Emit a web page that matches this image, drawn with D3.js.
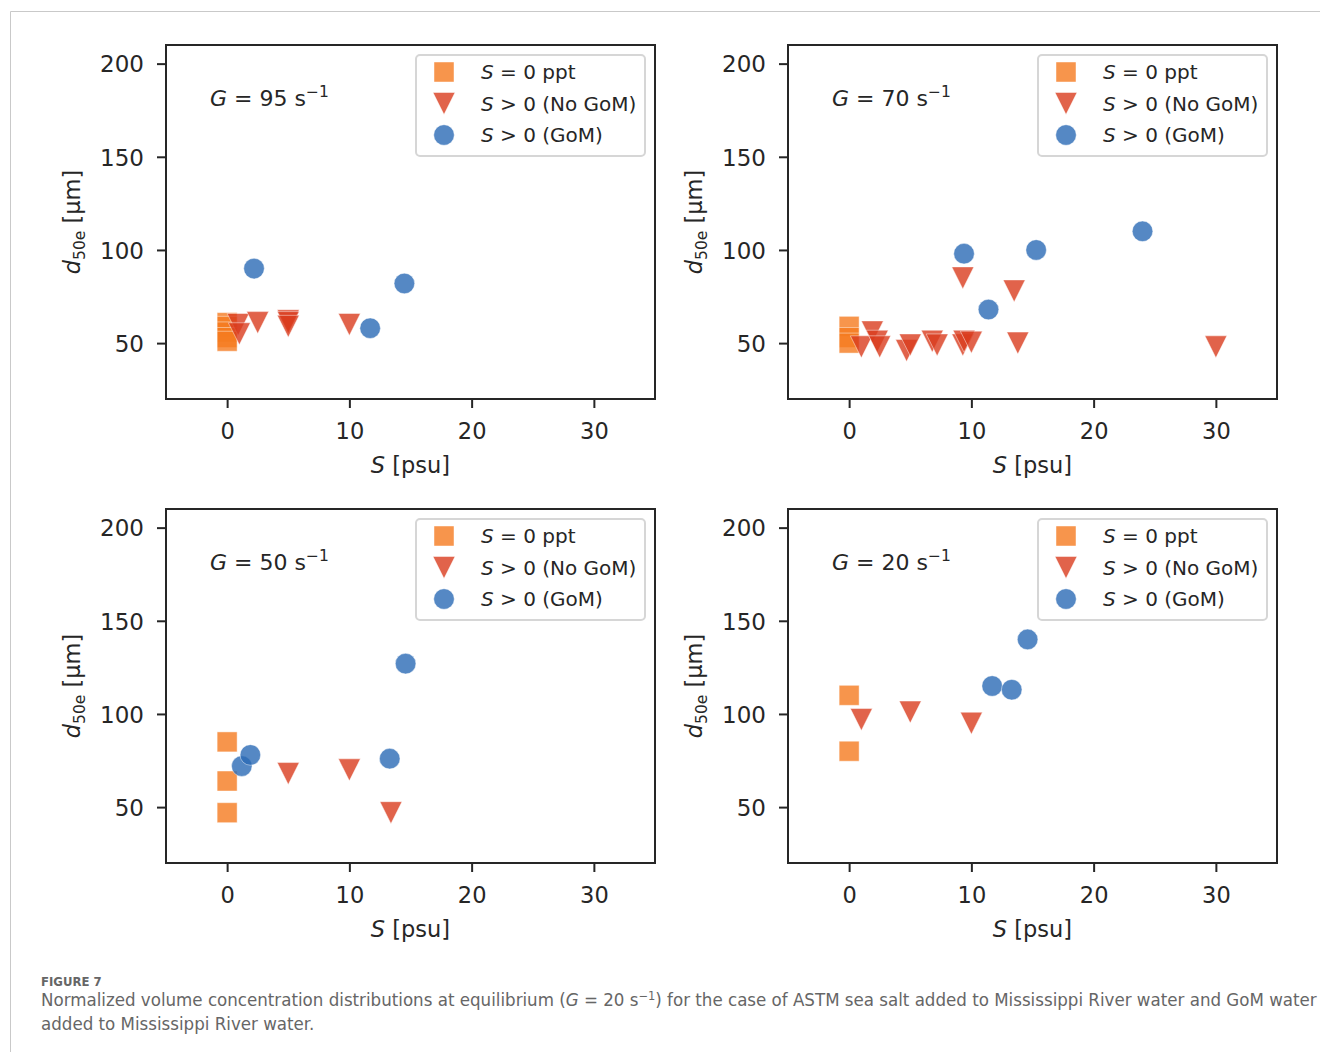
<!DOCTYPE html>
<html>
<head>
<meta charset="utf-8">
<script src="https://cdn.jsdelivr.net/npm/d3@7"></script>
<style>
  html, body { margin: 0; padding: 0; background: #fff; }
  svg { display: block; }
</style>
</head>
<body>
<svg id="chart" width="1320" height="1052"></svg>
<script>
// ---------- data ----------
const shearRates = ["95", "70", "50", "20"];
const xTicks = [0, 10, 20, 30];
const yTicks = [50, 100, 150, 200];
const legendLabels = ["S = 0 ppt", "S > 0 (No GoM)", "S > 0 (GoM)"];

// [S (psu), d50e (µm)]
const g95Square = [[0, 61], [0, 59], [0, 56], [0, 53], [0, 51]];
const g95Tri    = [[0.9, 60], [1.0, 55], [2.5, 61], [5.0, 62], [5.0, 61], [5.0, 59], [10.0, 60]];
const g95Circle = [[2.2, 90], [11.7, 58], [14.5, 82]];

const g70Square = [[0, 59], [0, 53], [0, 50]];
const g70Tri    = [[1.9, 56], [1.0, 48], [2.3, 51], [2.5, 48], [4.7, 46], [5.0, 49], [6.8, 51], [7.2, 49],
                   [9.3, 49], [9.4, 51], [10.0, 50.5], [9.3, 85], [13.5, 78], [13.8, 50], [30.0, 48]];
const g70Circle = [[9.4, 98], [11.4, 68], [15.3, 100], [24.0, 110]];

const g50Square = [[0, 85], [0, 64], [0, 47]];
const g50Tri    = [[5.0, 68], [10.0, 70], [13.4, 47]];
const g50Circle = [[1.2, 72], [1.9, 78], [13.3, 76], [14.6, 127]];

const g20Square = [[0, 110], [0, 80]];
const g20Tri    = [[1.0, 97], [5.0, 101], [10.0, 95]];
const g20Circle = [[11.7, 115], [13.3, 113], [14.6, 140]];

const panelData = [
  [g95Square, g95Tri, g95Circle],
  [g70Square, g70Tri, g70Circle],
  [g50Square, g50Tri, g50Circle],
  [g20Square, g20Tri, g20Circle]
];

// ---------- style ----------
const colSquare = "#f57a1f", colTri = "#d93c1e", colCircle = "#2b6ab5";
const markerOpacity = 0.8;
const ink = "#262626";
const fontMain = "'DejaVu Sans', sans-serif";

const svg = d3.select("#chart");

// outer card border
svg.append("path").attr("d", "M10.5,1052 L10.5,11.5 L1320,11.5")
   .attr("fill", "none").attr("stroke", "#c9c9c9").attr("stroke-width", 1);

const panelPos = [
  {left: 166, top: 45}, {left: 788, top: 45},
  {left: 166, top: 509}, {left: 788, top: 509}
];
const pw = 489, ph = 354;

const symSquare = d3.symbol().type(d3.symbolSquare).size(20 * 20);
const symCircle = d3.symbol().type(d3.symbolCircle).size(Math.PI * 10.3 * 10.3);
function triPath(s) { const h = s / 2; return `M0,${h} L${-h},${-h} L${h},${-h} Z`; }

function drawMarker(g, type, x, y) {
  let p;
  if (type === 0) p = g.append("path").attr("d", symSquare()).attr("fill", colSquare);
  else if (type === 1) p = g.append("path").attr("d", triPath(22)).attr("fill", colTri);
  else p = g.append("path").attr("d", symCircle()).attr("fill", colCircle);
  p.attr("transform", `translate(${x},${y})`)
   .attr("fill-opacity", markerOpacity)
   .attr("stroke", "#fff").attr("stroke-opacity", 0.45).attr("stroke-width", 1);
  return p;
}

panelPos.forEach((pos, i) => {
  const g = svg.append("g").attr("transform", `translate(${pos.left},${pos.top})`);
  const x = d3.scaleLinear().domain([-5, 35]).range([0, pw]);
  const y = d3.scaleLinear().domain([20, 210]).range([ph, 0]);

  // markers
  const [sq, tr, ci] = panelData[i];
  const mg = g.append("g");
  sq.forEach(d => drawMarker(mg, 0, x(d[0]), y(d[1])));
  tr.forEach(d => drawMarker(mg, 1, x(d[0]), y(d[1])));
  ci.forEach(d => drawMarker(mg, 2, x(d[0]), y(d[1])));

  // axes
  const xa = g.append("g").attr("transform", `translate(0,${ph})`)
    .call(d3.axisBottom(x).tickValues(xTicks).tickSize(9).tickPadding(8).tickFormat(d3.format("d")));
  const ya = g.append("g")
    .call(d3.axisLeft(y).tickValues(yTicks).tickSize(9).tickPadding(13).tickFormat(d3.format("d")));
  [xa, ya].forEach(a => {
    a.select(".domain").remove();
    a.selectAll(".tick line").attr("stroke", ink).attr("stroke-width", 2);
    a.selectAll(".tick text").attr("fill", ink).style("font-family", fontMain);
  });
  xa.selectAll(".tick text").attr("y", 40).attr("dy", 0).style("font-size", "22.5px");
  ya.selectAll(".tick text").attr("dy", "0.36em").style("font-size", "23px");

  // frame
  g.append("rect").attr("x", 0).attr("y", 0).attr("width", pw).attr("height", ph)
    .attr("fill", "none").attr("stroke", ink).attr("stroke-width", 2);

  // x label
  const xl = g.append("text").attr("x", pw / 2).attr("y", 428).attr("text-anchor", "middle")
    .attr("fill", ink).style("font-family", fontMain).style("font-size", "22.5px");
  xl.append("tspan").attr("font-style", "italic").text("S");
  xl.append("tspan").text(" [psu]");

  // y label
  const yl = g.append("text")
    .attr("text-anchor", "middle").attr("fill", ink)
    .style("font-family", fontMain).style("font-size", "22.5px");
  yl.attr("transform", `translate(-86,${ph / 2}) rotate(-90)`);
  yl.append("tspan").attr("font-style", "italic").text("d");
  yl.append("tspan").attr("dy", 5).style("font-size", "15.5px").text("50e");
  yl.append("tspan").attr("dy", -5).text(" [μm]");

  // annotation
  const an = g.append("text").attr("x", 44).attr("y", 61).attr("fill", ink)
    .style("font-family", fontMain).style("font-size", "22px");
  an.append("tspan").attr("font-style", "italic").text("G");
  an.append("tspan").text(" = " + shearRates[i] + " s");
  an.append("tspan").attr("dy", -9).style("font-size", "15.5px").text("−1");

  // legend
  const lg = g.append("g").attr("transform", `translate(250,10)`);
  lg.append("rect").attr("x", 0).attr("y", 0).attr("width", 229).attr("height", 101).attr("rx", 4)
    .attr("fill", "#fff").attr("fill-opacity", 0.85).attr("stroke", "#d6d6d6").attr("stroke-width", 2);
  legendLabels.forEach((lab, k) => {
    const cy = 17 + k * 31.5;
    drawMarker(lg, k, 28, cy);
    const t = lg.append("text").attr("x", 65).attr("y", cy).attr("dy", "0.35em").attr("fill", ink)
      .style("font-family", fontMain).style("font-size", "20px");
    t.append("tspan").attr("font-style", "italic").text(lab.slice(0, 1));
    t.append("tspan").text(lab.slice(1));
  });
});

// caption
const cap = svg.append("g").style("font-family", "'Liberation Sans Narrow', 'DejaVu Sans Condensed', 'Liberation Sans', sans-serif");
cap.append("text").attr("x", 41).attr("y", 986).attr("fill", "#666").style("font-size", "13px")
  .style("font-weight", "600").text("FIGURE 7");
const l1 = cap.append("text").attr("x", 0).attr("y", 0).attr("fill", "#666").style("font-size", "17.5px");
l1.append("tspan").text("Normalized volume concentration distributions at equilibrium (");
l1.append("tspan").attr("font-style", "italic").text("G");
l1.append("tspan").text(" = 20 s");
l1.append("tspan").attr("dy", -6).style("font-size", "12px").text("−1");
l1.append("tspan").attr("dy", 6).text(") for the case of ASTM sea salt added to Mississippi River water and GoM water");
const l2 = cap.append("text").attr("x", 0).attr("y", 0).attr("fill", "#666").style("font-size", "17.5px")
  .text("added to Mississippi River water.");
const w1 = l1.node().getComputedTextLength();
const sx = 1277 / w1;
l1.attr("transform", `translate(41,1006) scale(${sx},1)`);
l2.attr("transform", `translate(41,1030) scale(${sx},1)`);
</script>
</body>
</html>
